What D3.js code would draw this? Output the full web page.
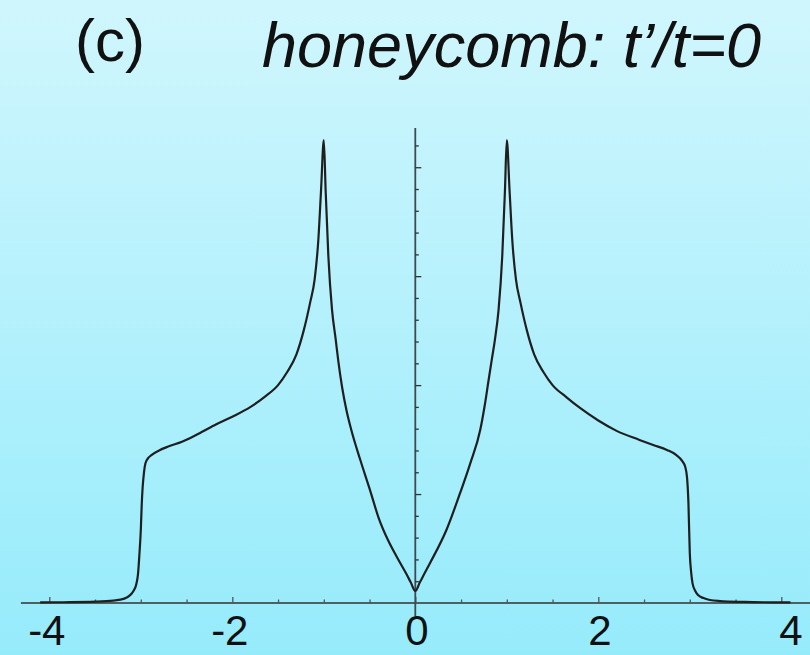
<!DOCTYPE html>
<html>
<head>
<meta charset="utf-8">
<script src="https://cdn.jsdelivr.net/npm/d3@7"></script>
<style>
  html, body { margin: 0; padding: 0; background: #c4f3fc; }
  svg { display: block; }
  text { font-family: "Liberation Sans", Arial, Helvetica, sans-serif; fill: #111; }
</style>
</head>
<body>
<div id="chart"></div>
<script>
// Density of states of the honeycomb lattice (t'/t = 0), energy in units of t
const energy = [
  -4.10, -3.85, -3.50, -3.30, -3.18, -3.12, -3.08, -3.05, -3.03, -3.015,
  -3.00, -2.99, -2.98, -2.965, -2.95, -2.92, -2.88, -2.80, -2.70, -2.55,
  -2.40, -2.20, -2.00, -1.80, -1.65, -1.50, -1.40, -1.30, -1.22, -1.15,
  -1.10, -1.06, -1.03, -1.00, -0.98, -0.95, -0.91, -0.87, -0.84, -0.80,
  -0.75, -0.70, -0.60, -0.50, -0.40, -0.30, -0.20, -0.10, -0.05, 0.00,
  0.05, 0.10, 0.16, 0.34, 0.49, 0.60, 0.71, 0.76, 0.80, 0.835,
  0.87, 0.91, 0.95, 0.98, 1.00, 1.03, 1.06, 1.10, 1.15, 1.22,
  1.30, 1.40, 1.50, 1.65, 1.80, 2.00, 2.20, 2.45, 2.60, 2.75,
  2.85, 2.92, 2.95, 2.97, 2.985, 3.00, 3.015, 3.03, 3.06, 3.09,
  3.15, 3.22, 3.33, 3.60, 3.90, 4.10
];
const dos = [
  0.0005, 0.0007, 0.0012, 0.0022, 0.0040, 0.0070, 0.0110, 0.0170, 0.0270, 0.045,
  0.067, 0.090, 0.106, 0.120, 0.128, 0.133, 0.136, 0.140, 0.1436, 0.148,
  0.154, 0.163, 0.171, 0.180, 0.189, 0.200, 0.212, 0.228, 0.250, 0.2755,
  0.297, 0.333, 0.379, 0.425, 0.379, 0.318, 0.269, 0.242, 0.221, 0.198,
  0.176, 0.159, 0.131, 0.105, 0.078, 0.058, 0.042, 0.027, 0.019, 0.011,
  0.019, 0.027, 0.0365, 0.067, 0.101, 0.128, 0.159, 0.182, 0.204, 0.223,
  0.2416, 0.269, 0.318, 0.379, 0.425, 0.379, 0.333, 0.297, 0.2755, 0.250,
  0.228, 0.212, 0.200, 0.189, 0.179, 0.1675, 0.158, 0.1497, 0.145, 0.1405,
  0.136, 0.130, 0.125, 0.115, 0.092, 0.0456, 0.028, 0.018, 0.011, 0.0073,
  0.0045, 0.0028, 0.0018, 0.0010, 0.0006, 0.0005
];
const xMajorTicks = [-4, -2, 0, 2, 4];
const xMinorTicks = [-3.5, -3, -2.5, -1.5, -1, -0.5, 0.5, 1, 1.5, 2.5, 3, 3.5];
const yMajorTicks = [0.1, 0.2, 0.3, 0.4];
const yMinorTicks = [0.02, 0.04, 0.06, 0.08, 0.12, 0.14, 0.16, 0.18, 0.22, 0.24,
                     0.26, 0.28, 0.32, 0.34, 0.36, 0.38, 0.42];
const panelLabel = "(c)";
const titleText = "honeycomb: t\u2019/t=0";

const W = 810, H = 655;
const svg = d3.select("#chart").append("svg")
  .attr("width", W).attr("height", H);

// vertical cyan wash behind everything
const defs = svg.append("defs");
const grad = defs.append("linearGradient")
  .attr("id", "bg").attr("x1", 0).attr("y1", 0).attr("x2", 0).attr("y2", 1);
grad.append("stop").attr("offset", "0%").attr("stop-color", "#d0f6fd");
grad.append("stop").attr("offset", "55%").attr("stop-color", "#b0f0fc");
grad.append("stop").attr("offset", "100%").attr("stop-color", "#96ebfb");
svg.append("rect").attr("width", W).attr("height", H).attr("fill", "url(#bg)");

const x = d3.scaleLinear().domain([-4, 4]).range([49.3, 781.3]);
const y = d3.scaleLinear().domain([0, 0.436]).range([603, 128]);

// headings
svg.append("text").attr("x", 75).attr("y", 61)
  .attr("font-size", 60).text(panelLabel);
svg.append("text").attr("x", 262).attr("y", 67)
  .attr("font-size", 63).attr("font-style", "italic").text(titleText);

// x axis: baseline, ticks pointing up, labels below
const axisColor = "#333";
svg.append("line")
  .attr("x1", x(-4.31)).attr("x2", W)
  .attr("y1", y(0)).attr("y2", y(0))
  .attr("stroke", axisColor).attr("stroke-width", 1.5);

const gxMinor = svg.append("g").attr("transform", `translate(0,${y(0)})`)
  .call(d3.axisBottom(x).tickValues(xMinorTicks).tickSize(-3.5).tickFormat(""));
const gxMajor = svg.append("g").attr("transform", `translate(0,${y(0)})`)
  .call(d3.axisBottom(x).tickValues(xMajorTicks).tickSize(-6).tickPadding(12)
    .tickFormat(d => d < 0 ? "-" + Math.abs(d) : String(d)));
[gxMinor, gxMajor].forEach(g => {
  g.select(".domain").remove();
  g.selectAll(".tick line").attr("stroke", "#555").attr("stroke-width", 1.3);
});
gxMajor.selectAll(".tick text")
  .attr("font-size", 42).attr("fill", "#111")
  .attr("font-family", "'Liberation Sans', Arial, sans-serif")
  .attr("dx", d => d === 4 ? 9 : (d < 0 ? -3 : 1));

// y axis at E = 0, ticks pointing right, no labels
svg.append("line")
  .attr("x1", x(0)).attr("x2", x(0))
  .attr("y1", y(0.436)).attr("y2", 616)
  .attr("stroke", "#3d4a50").attr("stroke-width", 1.8);
const gyMinor = svg.append("g").attr("transform", `translate(${x(0)},0)`)
  .call(d3.axisRight(y).tickValues(yMinorTicks).tickSize(3.5).tickFormat(""));
const gyMajor = svg.append("g").attr("transform", `translate(${x(0)},0)`)
  .call(d3.axisRight(y).tickValues(yMajorTicks).tickSize(6).tickFormat(""));
[gyMinor, gyMajor].forEach(g => {
  g.select(".domain").remove();
  g.selectAll(".tick line").attr("stroke", "#333").attr("stroke-width", 1.3);
});

// DOS curve
const pts = energy.map((e, i) => [e, dos[i]]);
const line = d3.line()
  .x(d => x(d[0])).y(d => y(d[1]))
  .curve(d3.curveMonotoneX);
svg.append("path").datum(pts)
  .attr("d", line)
  .attr("fill", "none")
  .attr("stroke", "#1f1f1f")
  .attr("stroke-width", 2.2)
  .attr("stroke-linejoin", "round");
</script>
</body>
</html>
